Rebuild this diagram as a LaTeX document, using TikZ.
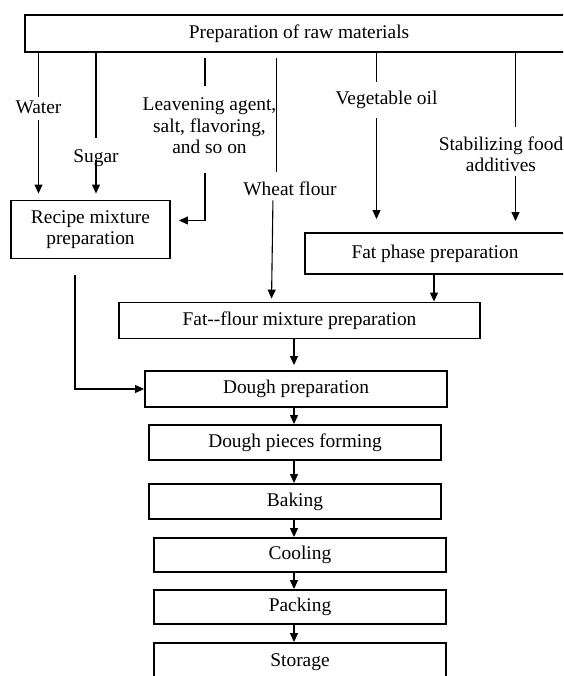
\documentclass[tikz,border=0pt]{standalone}
\usepackage{fontspec}
\setmainfont{Liberation Serif}
\usetikzlibrary{arrows.meta}
\newcommand\myfs{\fontsize{19.4}{21.5}\selectfont}
\newcommand\myfsb{\fontsize{19.4}{20.5}\selectfont}
\begin{document}
\begin{tikzpicture}[x=1pt,y=-1pt,
  box/.style={draw,line width=1.9pt,inner sep=0pt,align=center,font=\myfs},
  lbl/.style={inner sep=0pt,outer sep=0pt,align=center,font=\myfs},
  ln/.style={line width=1.1pt},
  arr/.style={line width=1.1pt,-{Triangle[length=9pt,width=8pt]}}]
\useasboundingbox (0,0) rectangle (563,676);
\clip (0,0) rectangle (563,676);
% boxes
\node[box,minimum width=548pt,minimum height=37pt] (top) at (299,33.5) {Preparation of raw materials};
\node[box,minimum width=159pt,minimum height=58pt] (recipe) at (90.5,229.5) {Recipe mixture\\ preparation};
\node[box,minimum width=260pt,minimum height=41pt] (fatph) at (435,253.5) {Fat phase preparation};
\node[box,minimum width=361pt,minimum height=36pt] (fatfl) at (299.5,320.5) {Fat-{}-flour mixture preparation};
\node[box,minimum width=302pt,minimum height=36pt] (dough) at (296,389) {Dough preparation};
\node[box,minimum width=292pt,minimum height=35pt] (pieces) at (295,442.5) {Dough pieces forming};
\node[box,minimum width=292pt,minimum height=35pt] (baking) at (295,501.5) {Baking};
\node[box,minimum width=292pt,minimum height=34pt] (cooling) at (300,555) {Cooling};
\node[box,minimum width=292pt,minimum height=34pt] (packing) at (300,607) {Packing};
\node[box,minimum width=292pt,minimum height=38pt] (storage) at (300,662) {Storage};
% labels
\node[lbl,anchor=base] (water) at (38.5,114) {Water};
\node[lbl,anchor=base] (sugar) at (96,163) {Sugar};
\node[lbl,anchor=north] (leav) at (209.5,98) {Leavening agent,\\ salt, flavoring,\\ and so on};
\node[lbl,anchor=base] (veg) at (386.5,105) {Vegetable oil};
\node[lbl,anchor=north,font=\myfsb] (stab) at (501,137) {Stabilizing food\\ additives};
\node[lbl,anchor=base] (wheat) at (290,196) {Wheat flour};
% helper x positions
\coordinate (lx) at (205,0);
\coordinate (vx) at (376.5,0);
\coordinate (sx) at (515.5,0);
\coordinate (wx) at (276.5,0);
\coordinate (wx2) at (273,0);
\coordinate (wx3) at (271.5,0);
\coordinate (rx) at (75,0);
\coordinate (fx) at (434,0);
\coordinate (ax) at (294,0);
% connectors
\draw[ln,shorten >=4pt] (top.south -| water.south) -- (water.north);
\draw[arr,shorten <=6pt,shorten >=6pt] (water.south) -- (water.south |- recipe.north);
\draw[ln,shorten >=12pt] (top.south -| sugar.south) -- (sugar.north);
\draw[arr,shorten <=1pt,shorten >=6pt] (sugar.center) -- (sugar.center |- recipe.north);
\draw[ln,shorten <=5pt,shorten >=12pt] (top.south -| lx) -- (leav.north -| lx);
\draw[arr,shorten <=19pt] (leav.south -| lx) |- ([xshift=8pt,yshift=9pt]recipe.east);
\draw[ln,shorten >=10pt] (top.south -| vx) -- (veg.north -| vx);
\draw[arr,shorten <=9pt,shorten >=13pt] (veg.south -| vx) -- (fatph.north -| vx);
\draw[ln,shorten >=10pt] (top.south -| sx) -- (stab.north -| sx);
\draw[arr,shorten <=5pt,shorten >=11pt] (stab.south -| sx) -- (fatph.north -| sx);
\draw[ln,shorten <=5pt,shorten >=10pt] (top.south -| wx) -- (wheat.north -| wx);
\draw[arr,shorten <=4pt,shorten >=3pt] (wheat.south -| wx2) -- (fatfl.north -| wx3);
\draw[arr,shorten <=16pt] (recipe.south -| rx) |- (dough.west);
\draw[arr] (fatph.south -| fx) -- (fatfl.north -| fx);
\draw[arr,shorten >=5pt] (fatfl.south -| ax) -- (dough.north -| ax);
\foreach \a/\b in {dough/pieces,pieces/baking,baking/cooling,cooling/packing,packing/storage}
  \draw[arr] (\a.south -| ax) -- (\b.north -| ax);
\end{tikzpicture}
\end{document}
